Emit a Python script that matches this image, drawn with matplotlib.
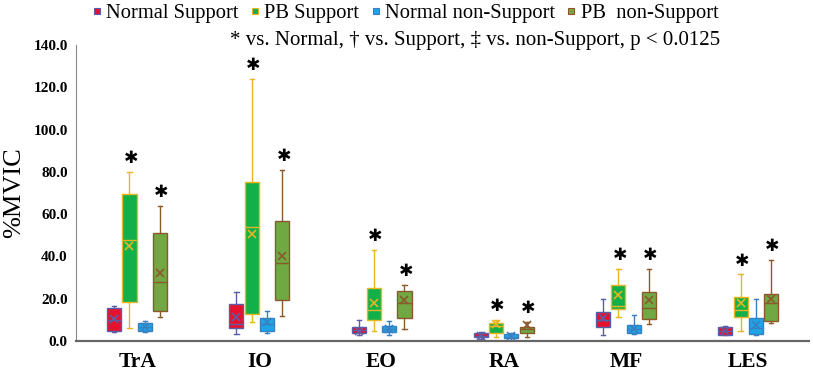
import numpy as np
import matplotlib.pyplot as plt
from matplotlib.lines import Line2D

muscles = ['TrA', 'IO', 'EO', 'RA', 'MF', 'LES']
series = ['Normal Support', 'PB Support', 'Normal non-Support', 'PB  non-Support']

# per muscle: [whisker low, q1, median, mean, q3, whisker high]  (%MVIC)
normal_support = [
    [4.4, 4.9, 10.0, 10.4, 15.5, 16.7],
    [3.3, 6.3, 7.9, 11.5, 17.4, 23.3],
    [3.0, 3.6, 5.2, 5.0, 6.8, 9.9],
    [1.2, 1.7, 2.6, 2.5, 3.6, 4.4],
    [2.8, 6.8, 9.9, 10.7, 13.9, 20.0],
    [2.8, 2.8, 5.0, 5.0, 6.8, 7.2],
]
pb_support = [
    [6.0, 18.3, 47.8, 44.9, 69.4, 79.8],
    [8.8, 12.8, 53.8, 50.5, 75.4, 124.0],
    [4.9, 9.9, 14.7, 17.8, 24.9, 43.0],
    [2.0, 3.9, 7.0, 8.2, 8.4, 9.9],
    [11.5, 15.1, 16.6, 21.8, 26.6, 33.9],
    [4.9, 11.5, 14.7, 17.8, 21.0, 31.5],
]
normal_nonsupport = [
    [4.5, 4.9, 6.5, 6.5, 8.7, 9.5],
    [3.9, 4.9, 8.0, 9.1, 10.7, 14.3],
    [2.8, 4.4, 5.5, 5.5, 7.2, 9.5],
    [0.5, 1.3, 2.0, 2.2, 3.3, 4.0],
    [3.3, 3.9, 5.5, 5.9, 7.4, 12.3],
    [2.8, 3.3, 6.0, 7.6, 10.7, 20.0],
]
pb_nonsupport = [
    [11.2, 14.3, 27.8, 32.3, 50.9, 63.9],
    [11.8, 19.4, 37.0, 40.4, 56.9, 80.9],
    [5.5, 10.7, 17.8, 19.4, 23.7, 26.5],
    [1.7, 3.6, 5.5, 7.6, 6.8, 9.1],
    [7.9, 10.3, 15.5, 19.4, 23.3, 33.9],
    [8.4, 9.6, 17.8, 19.7, 22.2, 38.3],
]
# which series are marked "* vs. Normal"
significant = [False, True, False, True]

all_data = [normal_support, pb_support, normal_nonsupport, pb_nonsupport]
faces = ['#E8112D', '#12B04B', '#1CA6E8', '#70A844']
edges = ['#5B5EA6', '#E8B623', '#3A7FC0', '#8B5A2B']
offsets = [-0.1875, -0.0625, 0.0625, 0.1875]

fig = plt.figure(figsize=(8.13, 3.74), dpi=100)
ax = fig.add_axes([0.0935, 0.088, 0.902, 0.792])

x = np.arange(len(muscles))
for data, fc, ec, off, sig in zip(all_data, faces, edges, offsets, significant):
    stats = []
    for row in data:
        stats.append(dict(whislo=row[0], q1=row[1], med=row[2], mean=row[3],
                          q3=row[4], whishi=row[5], fliers=[]))
    ax.bxp(stats, positions=x + off, widths=0.115, patch_artist=True,
           showmeans=True, showfliers=False, capwidths=0.035,
           boxprops=dict(facecolor=fc, edgecolor=ec, linewidth=1.0),
           medianprops=dict(color=ec, linewidth=1.0),
           whiskerprops=dict(color=ec, linewidth=1.0),
           capprops=dict(color=ec, linewidth=1.0),
           meanprops=dict(marker='x', markeredgecolor=ec, markersize=6,
                          markeredgewidth=1.2))
    if sig:
        for xi, row in zip(x + off, data):
            ax.annotate('\u2731', (xi, row[5]), xytext=(1, 10),
                        textcoords='offset points', ha='center', va='center',
                        fontsize=12.5, family='DejaVu Sans', color='black')

ax.set_xlim(-0.5, len(muscles) - 0.5)
ax.set_ylim(0, 140)
ax.set_yticks(np.arange(0, 141, 20))
ax.set_yticklabels(['%.1f' % v for v in np.arange(0, 141, 20)],
                   family='Liberation Serif', fontweight='bold', fontsize=11)
ax.set_xticks(x)
ax.set_xticklabels(muscles, family='Liberation Serif', fontweight='bold',
                   fontsize=15.5)
ax.tick_params(axis='both', length=0)
ax.tick_params(axis='x', pad=8)
ax.tick_params(axis='y', pad=6)
ax.set_ylabel('%MVIC', family='Liberation Serif', fontsize=19, labelpad=6)
ax.spines['top'].set_visible(False)
ax.spines['right'].set_visible(False)
ax.spines['left'].set_color('#8a8a8a')
ax.spines['bottom'].set_color('#666666')
ax.spines['bottom'].set_linewidth(1.6)

handles = [Line2D([], [], linestyle='none', marker='s', markersize=5,
                  markerfacecolor=fc, markeredgecolor=ec, markeredgewidth=0.8)
           for fc, ec in zip(faces, edges)]
fig.legend(handles, series, loc='center', bbox_to_anchor=(405 / 813, 1 - 13 / 374),
           ncol=4, frameon=False, handlelength=0.5, handletextpad=0.2,
           columnspacing=0.55, prop=dict(family='Liberation Serif', size=14.8))
fig.text(720 / 813, 1 - 40 / 374,
         '* vs. Normal, \u2020 vs. Support, \u2021 vs. non-Support, p < 0.0125',
         ha='right', va='center', family='Liberation Serif', fontsize=15)

fig.savefig('out.png', dpi=100)
